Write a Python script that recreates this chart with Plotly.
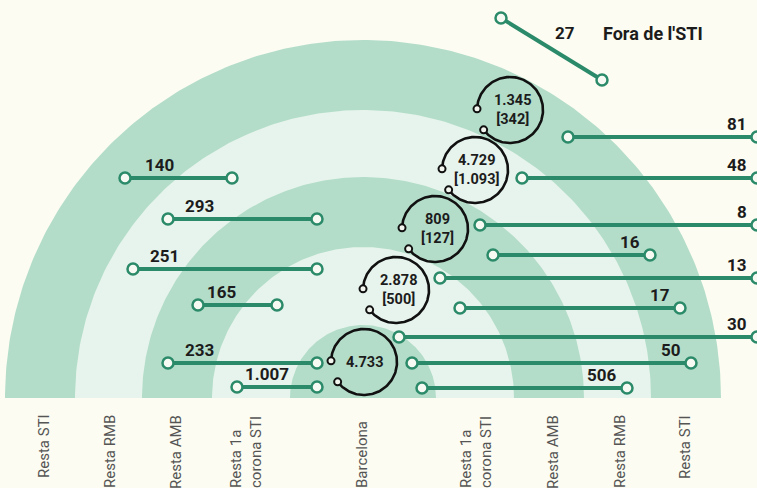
import numpy as np
import plotly.graph_objects as go

# ---------------- data ----------------
zones = ["Barcelona", "Resta 1a corona STI", "Resta AMB", "Resta RMB", "Resta STI"]

# flows inside each zone (value, [value in brackets])
intra_values = ["4.733", "2.878", "809", "4.729", "1.345"]
intra_brackets = ["", "[500]", "[127]", "[1.093]", "[342]"]

# flows between zones (left side: towards the centre, right side: outwards)
flow_from = ["Resta STI", "Resta RMB", "Resta RMB", "Resta AMB", "Resta AMB", "Resta 1a corona STI",
             "Resta STI", "Resta RMB", "Resta AMB", "Resta AMB", "Resta 1a corona STI",
             "Resta 1a corona STI", "Barcelona", "Barcelona", "Barcelona"]
flow_to = ["Resta RMB", "Resta AMB", "Resta 1a corona STI", "Resta 1a corona STI", "Barcelona", "Barcelona",
           "Fora de l'STI", "Fora de l'STI", "Fora de l'STI", "Resta STI", "Fora de l'STI",
           "Resta STI", "Fora de l'STI", "Resta STI", "Resta RMB"]
flow_values = ["140", "293", "251", "165", "233", "1.007",
               "81", "48", "8", "16", "13", "17", "30", "50", "506"]
flow_side = ["L", "L", "L", "L", "L", "L", "R", "R", "R", "R", "R", "R", "R", "R", "R"]

outside_label = "Fora de l'STI"
outside_value = "27"

axis_labels = ["Resta STI", "Resta RMB", "Resta AMB", "Resta 1a<br>corona STI", "Barcelona",
               "Resta 1a<br>corona STI", "Resta AMB", "Resta RMB", "Resta STI"]

# ---------------- layout (pixel-like chart units) ----------------
W, H = 757, 488
CX, CY = 363, 398
band_radii = [358, 288, 221, 151, 73]           # Resta STI ... Barcelona (outer edge)
band_colors = ["#b3ddc9", "#e7f4ed", "#b3ddc9", "#e7f4ed", "#b3ddc9"]

flow_y = [178, 219, 269, 305, 363, 387, 137, 178, 225, 255, 278, 308, 337, 363, 388]
flow_x0 = [125, 168, 133, 198, 168, 237, 568, 522, 480, 493, 440, 460, 399, 412, 422]
flow_x1 = [232, 317, 317, 277, 317, 317, 757, 757, 757, 650, 757, 680, 757, 691, 627]
left_label_x = [143, 183, 148, 205, 183, 243]

circle_cx = [364, 396, 435, 475, 510]
circle_cy = [362, 290, 229, 170, 110]
circle_r = 33

out_x = [501, 602]
out_y = [18, 80]

axis_label_x = [44, 110, 176, 246, 362, 476, 553, 620, 685]
axis_label_y = [446, 452, 452, 452, 455, 452, 452, 452, 447]

GREEN = "#2b8a69"
BG = "#fcfcf2"
INK = "#1c1c1c"
FONT = "Roboto"

fig = go.Figure()

# rings
theta = np.linspace(0, np.pi, 241)
for r, c in zip(band_radii, band_colors):
    fig.add_trace(go.Scatter(x=CX + r * np.cos(theta), y=CY - r * np.sin(theta),
                             mode="lines", fill="toself", fillcolor=c,
                             line=dict(width=0, color=c), hoverinfo="skip"))

# flows between zones
annotations = []
li = 0
for i, v in enumerate(flow_values):
    fig.add_trace(go.Scatter(x=[flow_x0[i], flow_x1[i]], y=[flow_y[i], flow_y[i]],
                             mode="lines+markers",
                             line=dict(color=GREEN, width=4),
                             marker=dict(symbol="circle", size=11, color="#f6faf3",
                                         line=dict(color=GREEN, width=2.5)),
                             hovertext=f"{flow_from[i]} → {flow_to[i]}: {v}", hoverinfo="text"))
    if flow_side[i] == "L":
        annotations.append(dict(x=left_label_x[li], y=flow_y[i] - 13, text=f"<b>{v}</b>",
                                xanchor="left", yanchor="middle", showarrow=False,
                                font=dict(family=FONT, size=17, color=INK)))
        li += 1
    else:
        annotations.append(dict(x=flow_x1[i] - 8, y=flow_y[i] - 13, text=f"<b>{v}</b>",
                                xanchor="right", yanchor="middle", showarrow=False,
                                font=dict(family=FONT, size=17, color=INK)))

# flow from outside
fig.add_trace(go.Scatter(x=out_x, y=out_y, mode="lines+markers",
                         line=dict(color=GREEN, width=4),
                         marker=dict(symbol="circle", size=11, color="#f6faf3",
                                     line=dict(color=GREEN, width=2.5)),
                         hovertext=f"{outside_label}: {outside_value}", hoverinfo="text"))
annotations.append(dict(x=565, y=33, text=f"<b>{outside_value}</b>", xanchor="center", yanchor="middle",
                        showarrow=False, font=dict(family=FONT, size=17, color=INK)))
annotations.append(dict(x=601, y=33, text=f"<b>{outside_label}</b>", xanchor="left", yanchor="middle",
                        showarrow=False, font=dict(family=FONT, size=18, color=INK)))

# self-loops (flows inside each zone)
arc = np.radians(np.linspace(178, -143, 160))
for k in range(len(zones)):
    cx, cy = circle_cx[k], circle_cy[k]
    fig.add_trace(go.Scatter(x=cx + circle_r * np.cos(arc), y=cy - circle_r * np.sin(arc),
                             mode="lines", line=dict(color="#111111", width=2.6), hoverinfo="skip"))
    ends = arc[[0, -1]]
    fig.add_trace(go.Scatter(x=cx + circle_r * np.cos(ends), y=cy - circle_r * np.sin(ends),
                             mode="markers",
                             marker=dict(symbol="circle", size=7, color="#f3f6ee",
                                         line=dict(color="#111111", width=2)),
                             hoverinfo="skip"))
    if intra_brackets[k]:
        txt = f"<b>{intra_values[k]}</b><br><b>{intra_brackets[k]}</b>"
        xo = 2
    else:
        txt = f"<b>{intra_values[k]}</b>"
        xo = 0
    annotations.append(dict(x=cx + xo, y=cy, text=txt, align="center",
                            xanchor="center", yanchor="middle", showarrow=False,
                            font=dict(family=FONT, size=14.5, color=INK)))

# zone labels under the rings
for t, x, y in zip(axis_labels, axis_label_x, axis_label_y):
    annotations.append(dict(x=x, y=y, text=t, textangle=-90, align="left",
                            xanchor="center", yanchor="middle", showarrow=False,
                            font=dict(family=FONT, size=15, color="#555555")))

fig.update_layout(
    width=W, height=H, margin=dict(l=0, r=0, t=0, b=0),
    paper_bgcolor=BG, plot_bgcolor=BG, showlegend=False,
    xaxis=dict(range=[0, W], visible=False, fixedrange=True),
    yaxis=dict(range=[H, 0], visible=False, fixedrange=True),
    annotations=annotations,
)

fig.write_html("out.html", config={"displayModeBar": False},
               post_script="document.body.style.margin='0';")
